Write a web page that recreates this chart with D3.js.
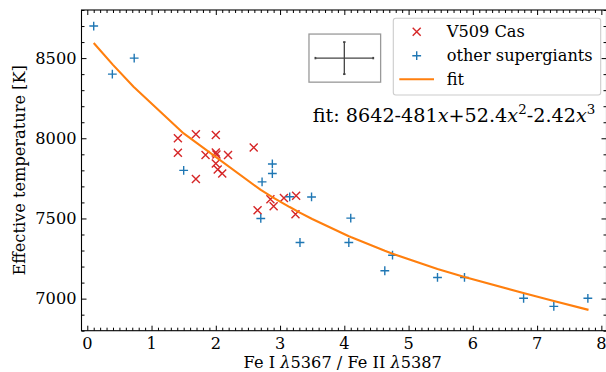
<!DOCTYPE html>
<html>
<head>
<meta charset="utf-8">
<script src="https://cdn.jsdelivr.net/npm/d3@7"></script>
<style>
  html, body { margin: 0; padding: 0; background: #fff; }
  svg { display: block; font-family: "DejaVu Serif", serif; }
</style>
</head>
<body>
<svg id="chart" width="606" height="372"></svg>
<script>
// ---- data ----
const v509X = [1.41, 1.69, 2.00, 1.41, 1.84, 2.00, 2.01, 2.19, 2.59, 2.00, 2.03, 2.10, 1.69, 2.85, 2.90, 3.06, 3.25, 2.65, 3.24];
const v509Y = [8000, 8025, 8020, 7910, 7895, 7912, 7899, 7895, 7943, 7843, 7806, 7781, 7746, 7620, 7576, 7627, 7641, 7551, 7526];

const otherX = [0.10, 0.39, 0.73, 1.50, 2.88, 2.88, 2.72, 3.15, 3.49, 2.70, 3.31, 4.10, 4.07, 4.75, 4.63, 5.45, 5.87, 6.79, 7.26, 7.79];
const otherY = [8700, 8400, 8500, 7800, 7840, 7780, 7728, 7635, 7634, 7500, 7350, 7502, 7350, 7271, 7174, 7132, 7132, 7002, 6952, 7002];

// fit curve values (evaluated at the sorted supergiant abscissae)
const fitX = [0.10, 0.40, 0.72, 1.50, 2.70, 2.88, 3.15, 3.30, 3.50, 4.07, 4.10, 4.63, 4.75, 5.45, 5.87, 6.80, 7.26, 7.80];
const fitY = [8594.4, 8457.8, 8321.9, 8030.2, 7677.7, 7633.5, 7571.2, 7538.4, 7496.6, 7389.2, 7384.0, 7298.1, 7280.2, 7185.2, 7134.6, 7033.3, 6985.8, 6929.8];

const xTicks = [0, 1, 2, 3, 4, 5, 6, 7, 8];
const yTicks = [7000, 7500, 8000, 8500];
const xDomain = [-0.09, 8.08];
const yDomain = [6800, 8800];

// typical error bar
const errCenter = [4.0, 8500];
const errSize = [0.45, 100];
const errBox = [3.45, 4.565, 8350, 8650];

const legendLabels = ["V509 Cas", "other supergiants", "fit"];
const fitLabel = "fit: 8642-481";

// ---- layout ----
const C_RED = "#d62728", C_BLUE = "#1f77b4", C_ORANGE = "#ff7f0e";
const L = 81.5, R = 606.5, T = 10, B = 330.7;

const svg = d3.select("#chart");
const x = d3.scaleLinear().domain(xDomain).range([L, R]);
const y = d3.scaleLinear().domain(yDomain).range([B, T]);

const fs = 16.2;

// ticks (direction in, all four sides)
const xMinor = d3.range(0, 81).map(i => i / 10).filter(v => v >= xDomain[0] && v <= xDomain[1] && !xTicks.includes(Math.round(v*10)/10));
const yMinor = d3.range(6800, 8801, 100).filter(v => !yTicks.includes(v));

function addAxis(axisGen, transform) {
  const g = svg.append("g").attr("transform", transform).call(axisGen);
  g.select(".domain").remove();
  g.selectAll("line").attr("stroke", "#000").attr("stroke-width", 1);
  return g;
}
// bottom
addAxis(d3.axisTop(x).tickValues(xTicks).tickSize(5).tickFormat(""), `translate(0,${B})`);
addAxis(d3.axisTop(x).tickValues(xMinor).tickSize(3).tickFormat(""), `translate(0,${B})`);
// top
addAxis(d3.axisBottom(x).tickValues(xTicks).tickSize(5).tickFormat(""), `translate(0,${T})`);
addAxis(d3.axisBottom(x).tickValues(xMinor).tickSize(3).tickFormat(""), `translate(0,${T})`);
// left
addAxis(d3.axisRight(y).tickValues(yTicks).tickSize(5).tickFormat(""), `translate(${L},0)`);
addAxis(d3.axisRight(y).tickValues(yMinor).tickSize(3).tickFormat(""), `translate(${L},0)`);
// right
addAxis(d3.axisLeft(y).tickValues(yTicks).tickSize(5).tickFormat(""), `translate(${R},0)`);
addAxis(d3.axisLeft(y).tickValues(yMinor).tickSize(3).tickFormat(""), `translate(${R},0)`);

// tick labels
svg.append("g").selectAll("text").data(xTicks).join("text")
  .attr("x", d => x(d)).attr("y", 348.5)
  .attr("text-anchor", "middle").attr("font-size", fs).attr("fill", "#000")
  .text(d => d);
svg.append("g").selectAll("text").data(yTicks).join("text")
  .attr("x", 76.5).attr("y", d => y(d)).attr("dy", "0.36em")
  .attr("text-anchor", "end").attr("font-size", fs).attr("fill", "#000")
  .text(d => d);

// axis labels
const xl = svg.append("text").attr("x", (L + 604) / 2).attr("y", 368)
  .attr("text-anchor", "middle").attr("font-size", fs).attr("fill", "#000");
xl.append("tspan").text("Fe I ");
xl.append("tspan").attr("font-style", "italic").text("λ");
xl.append("tspan").text("5367 / Fe II ");
xl.append("tspan").attr("font-style", "italic").text("λ");
xl.append("tspan").text("5387");

svg.append("text")
  .attr("transform", `translate(24.5,${(T + B) / 2}) rotate(-90)`)
  .attr("text-anchor", "middle").attr("font-size", fs).attr("fill", "#000")
  .text("Effective temperature [K]");

// plot clip
svg.append("clipPath").attr("id", "clip").append("rect")
  .attr("x", L).attr("y", T).attr("width", R - L).attr("height", B - T);
const plot = svg.append("g").attr("clip-path", "url(#clip)");

const xs = 4.0, ps = 4.4;
function xMarker(g, cx, cy, col) {
  g.append("path").attr("d", `M${cx-xs},${cy-xs}L${cx+xs},${cy+xs}M${cx-xs},${cy+xs}L${cx+xs},${cy-xs}`)
    .attr("stroke", col).attr("stroke-width", 1.4).attr("fill", "none");
}
function plusMarker(g, cx, cy, col) {
  g.append("path").attr("d", `M${cx-ps},${cy}L${cx+ps},${cy}M${cx},${cy-ps}L${cx},${cy+ps}`)
    .attr("stroke", col).attr("stroke-width", 1.4).attr("fill", "none");
}

const gRed = plot.append("g");
v509X.forEach((d, i) => xMarker(gRed, x(d), y(v509Y[i]), C_RED));
const gBlue = plot.append("g");
otherX.forEach((d, i) => plusMarker(gBlue, x(d), y(otherY[i]), C_BLUE));

const line = d3.line().x(d => x(d[0])).y(d => y(d[1]));
plot.append("path").datum(fitX.map((d, i) => [d, fitY[i]]))
  .attr("d", line).attr("fill", "none").attr("stroke", C_ORANGE)
  .attr("stroke-width", 2.1).attr("stroke-linejoin", "round");

// spines
svg.append("rect").attr("x", L).attr("y", T).attr("width", R - L).attr("height", B - T)
  .attr("fill", "none").attr("stroke", "#000").attr("stroke-width", 1.1);

// typical error inset
svg.append("rect")
  .attr("x", x(errBox[0])).attr("y", y(errBox[3]))
  .attr("width", x(errBox[1]) - x(errBox[0])).attr("height", y(errBox[2]) - y(errBox[3]))
  .attr("fill", "#fff").attr("stroke", "#999").attr("stroke-width", 1.3);
const ex0 = x(errCenter[0] - errSize[0]), ex1 = x(errCenter[0] + errSize[0]);
const ey0 = y(errCenter[1] + errSize[1]), ey1 = y(errCenter[1] - errSize[1]);
const ecx = x(errCenter[0]), ecy = y(errCenter[1]);
const eg = svg.append("g").attr("stroke", "#444").attr("stroke-width", 1.3);
eg.append("line").attr("x1", ex0).attr("x2", ex1).attr("y1", ecy).attr("y2", ecy);
eg.append("line").attr("x1", ecx).attr("x2", ecx).attr("y1", ey0).attr("y2", ey1);
eg.append("line").attr("x1", ex0).attr("x2", ex0).attr("y1", ecy - 1.2).attr("y2", ecy + 1.2).attr("stroke-width", 1.8);
eg.append("line").attr("x1", ex1).attr("x2", ex1).attr("y1", ecy - 1.2).attr("y2", ecy + 1.2).attr("stroke-width", 1.8);
eg.append("line").attr("x1", ecx - 1.2).attr("x2", ecx + 1.2).attr("y1", ey0).attr("y2", ey0).attr("stroke-width", 1.8);
eg.append("line").attr("x1", ecx - 1.2).attr("x2", ecx + 1.2).attr("y1", ey1).attr("y2", ey1).attr("stroke-width", 1.8);

// legend
const lg = svg.append("g");
lg.append("rect").attr("x", 393.3).attr("y", 18.3).attr("width", 207.4).attr("height", 76.7)
  .attr("rx", 2.5).attr("fill", "#fff").attr("fill-opacity", 0.8)
  .attr("stroke", "#cccccc").attr("stroke-width", 1.1);
xMarker(lg, 416.7, 31.7, C_RED);
plusMarker(lg, 416.7, 55.7, C_BLUE);
lg.append("line").attr("x1", 399.3).attr("x2", 434).attr("y1", 79.3).attr("y2", 79.3)
  .attr("stroke", C_ORANGE).attr("stroke-width", 2.1);
[37.3, 61.3, 85.3].forEach((yy, i) => {
  lg.append("text").attr("x", 446.7).attr("y", yy).attr("font-size", fs).attr("fill", "#000")
    .text(legendLabels[i]);
});

// fit annotation
const ft = svg.append("text").attr("x", 312.7).attr("y", 121.7).attr("font-size", 19.2).attr("fill", "#000");
ft.append("tspan").text(fitLabel);
ft.append("tspan").attr("font-style", "italic").text("x");
ft.append("tspan").text("+52.4");
ft.append("tspan").attr("font-style", "italic").text("x");
ft.append("tspan").attr("font-size", 13.4).attr("dy", -7.5).text("2");
ft.append("tspan").attr("dy", 7.5).text("-2.42");
ft.append("tspan").attr("font-style", "italic").text("x");
ft.append("tspan").attr("font-size", 13.4).attr("dy", -7.5).text("3");
</script>
</body>
</html>
